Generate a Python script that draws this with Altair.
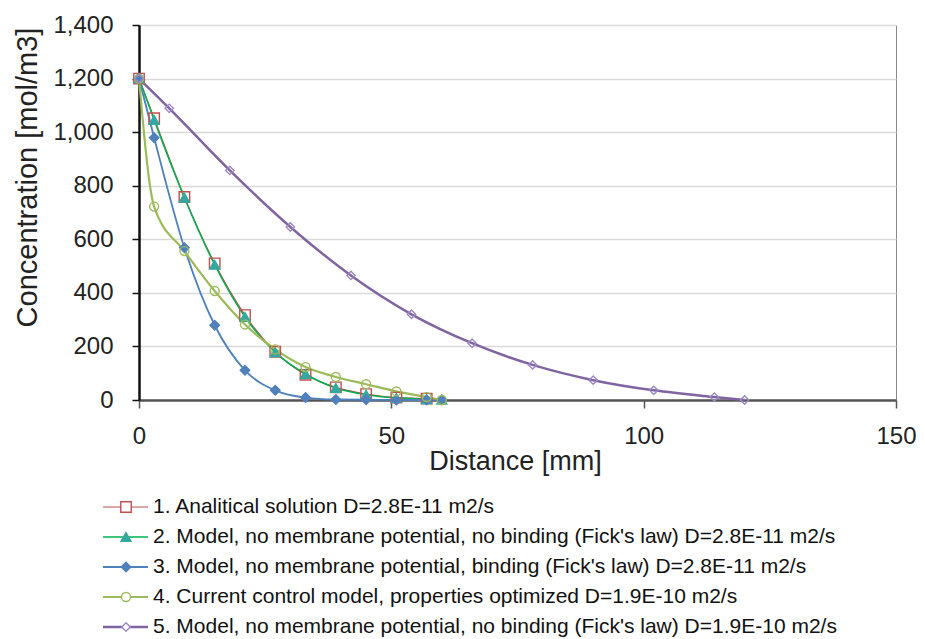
import altair as alt
import pandas as pd

# ---------------- data ----------------
series_names = [
    "1. Analitical solution D=2.8E-11 m2/s",
    "2. Model, no membrane potential, no binding (Fick's law) D=2.8E-11 m2/s",
    "3. Model, no membrane potential, binding (Fick's law) D=2.8E-11 m2/s",
    "4. Current control model, properties optimized D=1.9E-10 m2/s",
    "5. Model, no membrane potential, no binding (Fick's law) D=1.9E-10 m2/s",
]

x1 = [0, 3, 9, 15, 21, 27, 33, 39, 45, 51, 57]
y1 = [1200, 1052, 758, 510, 317, 180, 94, 47, 22, 9, 5]

x2 = [0, 3, 9, 15, 21, 27, 33, 39, 45, 51, 57, 60]
y2 = [1200, 1045, 755, 505, 310, 178, 97, 45, 20, 8, 3, 1]

x3 = [0, 3, 9, 15, 21, 27, 33, 39, 45, 51, 57, 60]
y3 = [1200, 979, 568, 279, 111, 36, 9, 2, 1, 0, 0, 0]

x4 = [0, 3, 9, 15, 21, 27, 33, 39, 45, 51, 57, 60]
y4 = [1200, 722, 556, 407, 282, 189, 123, 86, 59, 32, 11, 0]

x5 = [0, 6, 18, 30, 42, 54, 66, 78, 90, 102, 114, 120]
y5 = [1200, 1089, 857, 646, 465, 320, 212, 131, 74, 36, 11, 0]

x_ticks = [0, 50, 100, 150]
y_ticks = [0, 200, 400, 600, 800, 1000, 1200, 1400]

# ---------------- styles ----------------
line_colors = ["#C0504D", "#00B050", "#4F81BD", "#9BBB59", "#8064A2"]
line_widths = [1.2, 2.5, 3.2, 2.2, 2.0]
shapes = ["square", "triangle-up", "diamond", "circle", "diamond"]
plot_fills = ["transparent", "#33A9A0", "#4F81BD", "transparent", "transparent"]
legend_fills = ["white", "#33A9A0", "#4F81BD", "white", "white"]
marker_strokes = ["#C0504D", "#33A9A0", "#4F81BD", "#9BBB59", "#9C88C4"]
marker_sizes = [110, 70, 60, 110, 55]

FONT = "Liberation Sans"

rows = []
for name, xs, ys in zip(series_names, [x1, x2, x3, x4, x5], [y1, y2, y3, y4, y5]):
    for xv, yv in zip(xs, ys):
        rows.append({"series": name, "x": xv, "y": yv})
df = pd.DataFrame(rows)
leg = pd.DataFrame({"series": series_names})

sc_color = alt.Scale(domain=series_names, range=line_colors)
sc_width = alt.Scale(domain=series_names, range=line_widths)
sc_shape = alt.Scale(domain=series_names, range=shapes)
sc_fill = alt.Scale(domain=series_names, range=plot_fills)
sc_lfill = alt.Scale(domain=series_names, range=legend_fills)
sc_mstroke = alt.Scale(domain=series_names, range=marker_strokes)
sc_size = alt.Scale(domain=series_names, range=marker_sizes)

PLOT_W = 757

X = alt.X("x:Q", scale=alt.Scale(domain=[0, 150], nice=False),
          axis=alt.Axis(values=x_ticks, title="Distance [mm]", grid=False,
                        domainColor="#555555", domainWidth=2.5,
                        tickColor="#555555", tickSize=8, tickWidth=1.5,
                        labelFont=FONT, labelFontSize=24, labelColor="#222222",
                        labelPadding=16, labelFlush=False,
                        titleFont=FONT, titleFontSize=27,
                        titleFontWeight="normal", titleColor="#222222",
                        titlePadding=0, titleX=376))
Y = alt.Y("y:Q", scale=alt.Scale(domain=[0, 1400], nice=False),
          axis=alt.Axis(values=y_ticks, format=",d", title="Concentration [mol/m3]",
                        grid=True, gridColor="#D9D9D9", gridWidth=1.5,
                        domainColor="#111111", domainWidth=2.5,
                        tickColor="#111111", tickSize=7, tickWidth=1.5,
                        labelFont=FONT, labelFontSize=24, labelColor="#222222",
                        labelPadding=19, titleFont=FONT, titleFontSize=29,
                        titleFontWeight="normal", titleColor="#222222",
                        titlePadding=10, titleY=152))

lines = alt.Chart(df).mark_line(interpolate="monotone").encode(
    x=X, y=Y,
    color=alt.Color("series:N", scale=sc_color, legend=None),
    strokeWidth=alt.StrokeWidth("series:N", scale=sc_width, legend=None),
    order=alt.Order("x:Q"),
)
points = alt.Chart(df).mark_point(filled=True, strokeWidth=1.4, opacity=1).encode(
    x="x:Q", y="y:Q",
    shape=alt.Shape("series:N", scale=sc_shape, legend=None),
    fill=alt.Fill("series:N", scale=sc_fill, legend=None),
    stroke=alt.Stroke("series:N", scale=sc_mstroke, legend=None),
    size=alt.Size("series:N", scale=sc_size, legend=None),
)
main = alt.layer(lines, points).properties(
    width=PLOT_W, height=375,
    view=alt.ViewBackground(stroke="#888888", strokeWidth=1),
)

LY = alt.Y("series:N", scale=alt.Scale(type="point", domain=series_names, padding=0.1), axis=None)
leg_rule = alt.Chart(leg).mark_rule().encode(
    x=alt.value(-36), x2=alt.value(9), y=LY,
    color=alt.Color("series:N", scale=sc_color, legend=None),
    strokeWidth=alt.StrokeWidth("series:N", scale=sc_width, legend=None),
)
leg_pt = alt.Chart(leg).mark_point(filled=True, strokeWidth=1.4, opacity=1).encode(
    x=alt.value(-13), y=LY,
    shape=alt.Shape("series:N", scale=sc_shape, legend=None),
    fill=alt.Fill("series:N", scale=sc_lfill, legend=None),
    stroke=alt.Stroke("series:N", scale=sc_mstroke, legend=None),
    size=alt.Size("series:N", scale=sc_size, legend=None),
)
leg_txt = alt.Chart(leg).mark_text(align="left", baseline="middle", font=FONT,
                                   fontSize=21, color="#111111").encode(
    x=alt.value(14), y=LY, text="series:N",
)
legend = alt.layer(leg_rule, leg_pt, leg_txt).properties(
    width=PLOT_W, height=126,
    view=alt.ViewBackground(stroke="transparent"),
)

chart = alt.vconcat(main, legend, spacing=20).resolve_scale(
    color="independent", shape="independent", fill="independent",
    stroke="independent", size="independent", strokeWidth="independent",
).properties(
    padding={"left": 5, "top": 4, "right": 0, "bottom": 0}
).configure_view(
    stroke="transparent"
)

chart.save("out.html", embed_options={"renderer": "svg", "actions": False})
